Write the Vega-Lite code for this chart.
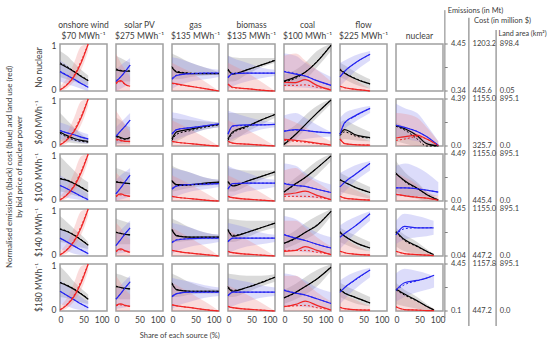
{
"$schema":"https://vega.github.io/schema/vega-lite/v6.json",
"bounds":"flush",
"title":{"text":"Share of each source (%)","orient":"bottom","anchor":"middle","dx":-97,"offset":4,"fontSize":7.5,"fontWeight":"normal","color":"#404040"},
"data":{"values":[
{"r":"No nuclear","s":"onshore wind|$70 MWh⁻¹","x":0,"e":0.58,"ed":0.60,"el":0.30,"eh":0.85,"c":0.41,"cd":0.42,"cl":0.20,"ch":0.65,"l":0.02,"ld":0.03,"ll":0,"lh":0.10},
{"r":"No nuclear","s":"onshore wind|$70 MWh⁻¹","x":15,"e":0.50,"ed":0.52,"el":0.25,"eh":0.75,"c":0.33,"cd":0.34,"cl":0.15,"ch":0.55,"l":0.13,"ld":0.15,"ll":0.06,"lh":0.28},
{"r":"No nuclear","s":"onshore wind|$70 MWh⁻¹","x":30,"e":0.41,"ed":0.42,"el":0.20,"eh":0.60,"c":0.25,"cd":0.25,"cl":0.10,"ch":0.42,"l":0.31,"ld":0.34,"ll":0.20,"lh":0.60},
{"r":"No nuclear","s":"onshore wind|$70 MWh⁻¹","x":45,"e":0.31,"ed":0.32,"el":0.15,"eh":0.45,"c":0.16,"cd":0.16,"cl":0.05,"ch":0.30,"l":0.60,"ld":0.64,"ll":0.45,"lh":0.95},
{"r":"No nuclear","s":"onshore wind|$70 MWh⁻¹","x":60,"e":0.22,"ed":0.23,"el":0.12,"eh":0.33,"c":0.08,"cd":0.08,"cl":0,"ch":0.20,"l":1,"ld":1,"ll":0.85,"lh":1},
{"r":"No nuclear","s":"solar PV|$275 MWh⁻¹","x":0,"e":0.45,"ed":0.47,"el":0.20,"eh":0.75,"c":0.20,"cd":0.22,"cl":0,"ch":0.45,"l":0.17,"ld":0.15,"ll":0,"lh":0.80},
{"r":"No nuclear","s":"solar PV|$275 MWh⁻¹","x":10,"e":0.43,"ed":0.44,"el":0.20,"eh":0.70,"c":0.30,"cd":0.30,"cl":0.05,"ch":0.55,"l":0.22,"ld":0.20,"ll":0,"lh":0.60},
{"r":"No nuclear","s":"solar PV|$275 MWh⁻¹","x":20,"e":0.42,"ed":0.43,"el":0.20,"eh":0.65,"c":0.42,"cd":0.42,"cl":0.10,"ch":0.62,"l":0.14,"ld":0.13,"ll":0,"lh":0.45},
{"r":"No nuclear","s":"solar PV|$275 MWh⁻¹","x":30,"e":0.42,"ed":0.43,"el":0.20,"eh":0.60,"c":0.55,"cd":0.55,"cl":0.15,"ch":0.70,"l":0.10,"ld":0.10,"ll":0,"lh":0.30},
{"r":"No nuclear","s":"gas|$135 MWh⁻¹","x":0,"e":0.50,"ed":0.52,"el":0.25,"eh":0.80,"c":0.25,"cd":0.27,"cl":0.05,"ch":0.72,"l":0.17,"ld":0.16,"ll":0,"lh":0.60},
{"r":"No nuclear","s":"gas|$135 MWh⁻¹","x":10,"e":0.40,"ed":0.42,"el":0.25,"eh":0.75,"c":0.33,"cd":0.34,"cl":0.10,"ch":0.70,"l":0.15,"ld":0.14,"ll":0,"lh":0.55},
{"r":"No nuclear","s":"gas|$135 MWh⁻¹","x":40,"e":0.37,"ed":0.38,"el":0.30,"eh":0.60,"c":0.37,"cd":0.37,"cl":0.20,"ch":0.60,"l":0.10,"ld":0.10,"ll":0,"lh":0.40},
{"r":"No nuclear","s":"gas|$135 MWh⁻¹","x":70,"e":0.37,"ed":0.37,"el":0.33,"eh":0.50,"c":0.38,"cd":0.38,"cl":0.25,"ch":0.50,"l":0.05,"ld":0.05,"ll":0,"lh":0.20},
{"r":"No nuclear","s":"gas|$135 MWh⁻¹","x":100,"e":0.37,"ed":0.37,"el":0.35,"eh":0.40,"c":0.38,"cd":0.38,"cl":0.30,"ch":0.45,"l":0,"ld":0,"ll":0,"lh":0},
{"r":"No nuclear","s":"biomass|$135 MWh⁻¹","x":0,"e":0.45,"ed":0.47,"el":0.20,"eh":0.75,"c":0.28,"cd":0.30,"cl":0.05,"ch":0.75,"l":0.15,"ld":0.14,"ll":0,"lh":0.60},
{"r":"No nuclear","s":"biomass|$135 MWh⁻¹","x":10,"e":0.36,"ed":0.37,"el":0.20,"eh":0.72,"c":0.37,"cd":0.38,"cl":0.10,"ch":0.70,"l":0.08,"ld":0.07,"ll":0,"lh":0.55},
{"r":"No nuclear","s":"biomass|$135 MWh⁻¹","x":40,"e":0.45,"ed":0.45,"el":0.35,"eh":0.70,"c":0.38,"cd":0.38,"cl":0.20,"ch":0.60,"l":0.05,"ld":0.05,"ll":0,"lh":0.40},
{"r":"No nuclear","s":"biomass|$135 MWh⁻¹","x":70,"e":0.55,"ed":0.55,"el":0.50,"eh":0.70,"c":0.38,"cd":0.38,"cl":0.27,"ch":0.50,"l":0.02,"ld":0.02,"ll":0,"lh":0.20},
{"r":"No nuclear","s":"biomass|$135 MWh⁻¹","x":100,"e":0.65,"ed":0.66,"el":0.60,"eh":0.70,"c":0.38,"cd":0.38,"cl":0.32,"ch":0.45,"l":0,"ld":0,"ll":0,"lh":0},
{"r":"No nuclear","s":"coal|$100 MWh⁻¹","x":0,"e":0.21,"ed":0.20,"el":0.10,"eh":0.35,"c":0.41,"cd":0.42,"cl":0.10,"ch":0.80,"l":0.19,"ld":0.12,"ll":0,"lh":0.75},
{"r":"No nuclear","s":"coal|$100 MWh⁻¹","x":25,"e":0.30,"ed":0.27,"el":0.15,"eh":0.45,"c":0.36,"cd":0.37,"cl":0.08,"ch":0.75,"l":0.18,"ld":0.12,"ll":0,"lh":0.80},
{"r":"No nuclear","s":"coal|$100 MWh⁻¹","x":45,"e":0.40,"ed":0.40,"el":0.25,"eh":0.60,"c":0.32,"cd":0.32,"cl":0.07,"ch":0.60,"l":0.24,"ld":0.13,"ll":0,"lh":0.65},
{"r":"No nuclear","s":"coal|$100 MWh⁻¹","x":70,"e":0.62,"ed":0.63,"el":0.50,"eh":0.85,"c":0.22,"cd":0.22,"cl":0.05,"ch":0.45,"l":0.12,"ld":0.08,"ll":0,"lh":0.45},
{"r":"No nuclear","s":"coal|$100 MWh⁻¹","x":100,"e":0.97,"ed":0.98,"el":0.85,"eh":1,"c":0.12,"cd":0.12,"cl":0.05,"ch":0.30,"l":0.02,"ld":0.03,"ll":0,"lh":0.20},
{"r":"No nuclear","s":"flow|$225 MWh⁻¹","x":0,"e":0.45,"ed":0.47,"el":0.30,"eh":0.60,"c":0.30,"cd":0.30,"cl":0.10,"ch":0.60,"l":0.10,"ld":0.10,"ll":0,"lh":0.50},
{"r":"No nuclear","s":"flow|$225 MWh⁻¹","x":10,"e":0.38,"ed":0.39,"el":0.25,"eh":0.55,"c":0.42,"cd":0.42,"cl":0.20,"ch":0.65,"l":0.07,"ld":0.07,"ll":0,"lh":0.40},
{"r":"No nuclear","s":"flow|$225 MWh⁻¹","x":30,"e":0.27,"ed":0.28,"el":0.15,"eh":0.42,"c":0.58,"cd":0.58,"cl":0.40,"ch":0.75,"l":0.04,"ld":0.04,"ll":0,"lh":0.25},
{"r":"No nuclear","s":"flow|$225 MWh⁻¹","x":64,"e":0.15,"ed":0.15,"el":0.05,"eh":0.25,"c":0.78,"cd":0.78,"cl":0.65,"ch":0.85,"l":0,"ld":0,"ll":0,"lh":0.05},

{"r":"$60 MWh⁻¹","s":"onshore wind|$70 MWh⁻¹","x":0,"e":0.30,"ed":0.27,"el":0.10,"eh":0.70,"c":0.33,"cd":0.33,"cl":0.15,"ch":0.50,"l":0.02,"ld":0.03,"ll":0,"lh":0.10},
{"r":"$60 MWh⁻¹","s":"onshore wind|$70 MWh⁻¹","x":15,"e":0.22,"ed":0.19,"el":0.08,"eh":0.55,"c":0.28,"cd":0.28,"cl":0.12,"ch":0.45,"l":0.13,"ld":0.15,"ll":0.06,"lh":0.28},
{"r":"$60 MWh⁻¹","s":"onshore wind|$70 MWh⁻¹","x":30,"e":0.16,"ed":0.13,"el":0.06,"eh":0.40,"c":0.24,"cd":0.24,"cl":0.10,"ch":0.38,"l":0.31,"ld":0.34,"ll":0.20,"lh":0.60},
{"r":"$60 MWh⁻¹","s":"onshore wind|$70 MWh⁻¹","x":45,"e":0.12,"ed":0.10,"el":0.05,"eh":0.25,"c":0.19,"cd":0.19,"cl":0.07,"ch":0.30,"l":0.60,"ld":0.64,"ll":0.45,"lh":0.95},
{"r":"$60 MWh⁻¹","s":"onshore wind|$70 MWh⁻¹","x":60,"e":0.10,"ed":0.08,"el":0.05,"eh":0.15,"c":0.15,"cd":0.15,"cl":0.05,"ch":0.25,"l":1,"ld":1,"ll":0.85,"lh":1},
{"r":"$60 MWh⁻¹","s":"solar PV|$275 MWh⁻¹","x":0,"e":0.22,"ed":0.20,"el":0.05,"eh":0.60,"c":0.20,"cd":0.22,"cl":0.05,"ch":0.40,"l":0.15,"ld":0.13,"ll":0,"lh":0.75},
{"r":"$60 MWh⁻¹","s":"solar PV|$275 MWh⁻¹","x":10,"e":0.18,"ed":0.16,"el":0.05,"eh":0.55,"c":0.32,"cd":0.32,"cl":0.07,"ch":0.50,"l":0.12,"ld":0.11,"ll":0,"lh":0.60},
{"r":"$60 MWh⁻¹","s":"solar PV|$275 MWh⁻¹","x":20,"e":0.15,"ed":0.14,"el":0.05,"eh":0.45,"c":0.43,"cd":0.43,"cl":0.10,"ch":0.60,"l":0.10,"ld":0.10,"ll":0,"lh":0.45},
{"r":"$60 MWh⁻¹","s":"solar PV|$275 MWh⁻¹","x":30,"e":0.18,"ed":0.17,"el":0.05,"eh":0.40,"c":0.55,"cd":0.55,"cl":0.12,"ch":0.70,"l":0.10,"ld":0.09,"ll":0,"lh":0.30},
{"r":"$60 MWh⁻¹","s":"gas|$135 MWh⁻¹","x":0,"e":0.15,"ed":0.12,"el":0.05,"eh":0.60,"c":0.25,"cd":0.27,"cl":0.10,"ch":0.72,"l":0.10,"ld":0.10,"ll":0,"lh":0.55},
{"r":"$60 MWh⁻¹","s":"gas|$135 MWh⁻¹","x":10,"e":0.30,"ed":0.25,"el":0.10,"eh":0.58,"c":0.35,"cd":0.35,"cl":0.15,"ch":0.70,"l":0.08,"ld":0.08,"ll":0,"lh":0.50},
{"r":"$60 MWh⁻¹","s":"gas|$135 MWh⁻¹","x":40,"e":0.36,"ed":0.33,"el":0.25,"eh":0.55,"c":0.39,"cd":0.39,"cl":0.25,"ch":0.62,"l":0.05,"ld":0.05,"ll":0,"lh":0.35},
{"r":"$60 MWh⁻¹","s":"gas|$135 MWh⁻¹","x":70,"e":0.42,"ed":0.40,"el":0.35,"eh":0.52,"c":0.43,"cd":0.43,"cl":0.35,"ch":0.55,"l":0.02,"ld":0.02,"ll":0,"lh":0.18},
{"r":"$60 MWh⁻¹","s":"gas|$135 MWh⁻¹","x":100,"e":0.46,"ed":0.45,"el":0.40,"eh":0.50,"c":0.47,"cd":0.47,"cl":0.40,"ch":0.50,"l":0,"ld":0,"ll":0,"lh":0},
{"r":"$60 MWh⁻¹","s":"biomass|$135 MWh⁻¹","x":0,"e":0.15,"ed":0.12,"el":0.05,"eh":0.70,"c":0.25,"cd":0.27,"cl":0.10,"ch":0.75,"l":0.10,"ld":0.10,"ll":0,"lh":0.55},
{"r":"$60 MWh⁻¹","s":"biomass|$135 MWh⁻¹","x":10,"e":0.30,"ed":0.27,"el":0.10,"eh":0.70,"c":0.43,"cd":0.42,"cl":0.15,"ch":0.72,"l":0.06,"ld":0.06,"ll":0,"lh":0.50},
{"r":"$60 MWh⁻¹","s":"biomass|$135 MWh⁻¹","x":40,"e":0.42,"ed":0.40,"el":0.30,"eh":0.70,"c":0.45,"cd":0.44,"cl":0.25,"ch":0.62,"l":0.04,"ld":0.04,"ll":0,"lh":0.35},
{"r":"$60 MWh⁻¹","s":"biomass|$135 MWh⁻¹","x":70,"e":0.55,"ed":0.55,"el":0.45,"eh":0.70,"c":0.45,"cd":0.45,"cl":0.35,"ch":0.55,"l":0.02,"ld":0.02,"ll":0,"lh":0.18},
{"r":"$60 MWh⁻¹","s":"biomass|$135 MWh⁻¹","x":100,"e":0.67,"ed":0.67,"el":0.60,"eh":0.70,"c":0.46,"cd":0.46,"cl":0.40,"ch":0.50,"l":0,"ld":0,"ll":0,"lh":0},
{"r":"$60 MWh⁻¹","s":"coal|$100 MWh⁻¹","x":0,"e":0.03,"ed":0.05,"el":0,"eh":0.30,"c":0.31,"cd":0.32,"cl":0.10,"ch":0.65,"l":0.14,"ld":0.12,"ll":0,"lh":0.60},
{"r":"$60 MWh⁻¹","s":"coal|$100 MWh⁻¹","x":25,"e":0.25,"ed":0.25,"el":0.15,"eh":0.45,"c":0.35,"cd":0.34,"cl":0.12,"ch":0.70,"l":0.12,"ld":0.10,"ll":0,"lh":0.50},
{"r":"$60 MWh⁻¹","s":"coal|$100 MWh⁻¹","x":45,"e":0.45,"ed":0.45,"el":0.35,"eh":0.65,"c":0.33,"cd":0.33,"cl":0.15,"ch":0.60,"l":0.10,"ld":0.08,"ll":0,"lh":0.40},
{"r":"$60 MWh⁻¹","s":"coal|$100 MWh⁻¹","x":70,"e":0.70,"ed":0.70,"el":0.60,"eh":0.85,"c":0.30,"cd":0.30,"cl":0.18,"ch":0.45,"l":0.06,"ld":0.05,"ll":0,"lh":0.25},
{"r":"$60 MWh⁻¹","s":"coal|$100 MWh⁻¹","x":100,"e":0.98,"ed":0.98,"el":0.90,"eh":1,"c":0.28,"cd":0.28,"cl":0.20,"ch":0.30,"l":0.02,"ld":0.02,"ll":0,"lh":0.10},
{"r":"$60 MWh⁻¹","s":"flow|$225 MWh⁻¹","x":0,"e":0.25,"ed":0.22,"el":0.10,"eh":0.50,"c":0.25,"cd":0.25,"cl":0.15,"ch":0.60,"l":0.15,"ld":0.13,"ll":0,"lh":0.50},
{"r":"$60 MWh⁻¹","s":"flow|$225 MWh⁻¹","x":10,"e":0.35,"ed":0.30,"el":0.15,"eh":0.55,"c":0.50,"cd":0.48,"cl":0.35,"ch":0.70,"l":0.05,"ld":0.05,"ll":0,"lh":0.35},
{"r":"$60 MWh⁻¹","s":"flow|$225 MWh⁻¹","x":30,"e":0.25,"ed":0.22,"el":0.12,"eh":0.45,"c":0.63,"cd":0.62,"cl":0.50,"ch":0.78,"l":0.03,"ld":0.03,"ll":0,"lh":0.25},
{"r":"$60 MWh⁻¹","s":"flow|$225 MWh⁻¹","x":64,"e":0.18,"ed":0.17,"el":0.10,"eh":0.30,"c":0.80,"cd":0.80,"cl":0.70,"ch":0.85,"l":0.02,"ld":0.02,"ll":0,"lh":0.10},
{"r":"$60 MWh⁻¹","s":"nuclear","x":0,"e":0.44,"ed":0.42,"el":0.10,"eh":0.50,"c":0.44,"cd":0.44,"cl":0.20,"ch":0.90,"l":0.17,"ld":0.12,"ll":0,"lh":0.70},
{"r":"$60 MWh⁻¹","s":"nuclear","x":20,"e":0.36,"ed":0.33,"el":0.05,"eh":0.40,"c":0.39,"cd":0.39,"cl":0.15,"ch":0.80,"l":0.20,"ld":0.15,"ll":0,"lh":0.68},
{"r":"$60 MWh⁻¹","s":"nuclear","x":45,"e":0.22,"ed":0.15,"el":0,"eh":0.25,"c":0.31,"cd":0.31,"cl":0.10,"ch":0.70,"l":0.23,"ld":0.20,"ll":0,"lh":0.60},
{"r":"$60 MWh⁻¹","s":"nuclear","x":65,"e":0.05,"ed":0,"el":0,"eh":0.10,"c":0.20,"cd":0.20,"cl":0.05,"ch":0.45,"l":0.15,"ld":0.15,"ll":0,"lh":0.40},
{"r":"$60 MWh⁻¹","s":"nuclear","x":90,"e":0,"ed":0,"el":0,"eh":0.05,"c":0.01,"cd":0.01,"cl":0,"ch":0.10,"l":0.01,"ld":0.01,"ll":0,"lh":0.10},

{"r":"$100 MWh⁻¹","s":"onshore wind|$70 MWh⁻¹","x":0,"e":0.47,"ed":0.48,"el":0.20,"eh":0.95,"c":0.33,"cd":0.33,"cl":0.10,"ch":0.55,"l":0.02,"ld":0.03,"ll":0,"lh":0.10},
{"r":"$100 MWh⁻¹","s":"onshore wind|$70 MWh⁻¹","x":15,"e":0.44,"ed":0.45,"el":0.17,"eh":0.80,"c":0.26,"cd":0.26,"cl":0.07,"ch":0.45,"l":0.13,"ld":0.15,"ll":0.06,"lh":0.28},
{"r":"$100 MWh⁻¹","s":"onshore wind|$70 MWh⁻¹","x":30,"e":0.37,"ed":0.38,"el":0.12,"eh":0.65,"c":0.18,"cd":0.18,"cl":0.04,"ch":0.35,"l":0.31,"ld":0.34,"ll":0.20,"lh":0.60},
{"r":"$100 MWh⁻¹","s":"onshore wind|$70 MWh⁻¹","x":45,"e":0.29,"ed":0.30,"el":0.08,"eh":0.50,"c":0.10,"cd":0.10,"cl":0.02,"ch":0.25,"l":0.60,"ld":0.64,"ll":0.45,"lh":0.95},
{"r":"$100 MWh⁻¹","s":"onshore wind|$70 MWh⁻¹","x":60,"e":0.20,"ed":0.21,"el":0.05,"eh":0.40,"c":0.03,"cd":0.03,"cl":0,"ch":0.15,"l":1,"ld":1,"ll":0.85,"lh":1},
{"r":"$100 MWh⁻¹","s":"solar PV|$275 MWh⁻¹","x":0,"e":0.40,"ed":0.41,"el":0.15,"eh":0.70,"c":0.15,"cd":0.16,"cl":0,"ch":0.45,"l":0.10,"ld":0.09,"ll":0,"lh":0.60},
{"r":"$100 MWh⁻¹","s":"solar PV|$275 MWh⁻¹","x":10,"e":0.39,"ed":0.40,"el":0.15,"eh":0.67,"c":0.28,"cd":0.28,"cl":0.03,"ch":0.55,"l":0.15,"ld":0.13,"ll":0,"lh":0.50},
{"r":"$100 MWh⁻¹","s":"solar PV|$275 MWh⁻¹","x":20,"e":0.38,"ed":0.38,"el":0.15,"eh":0.63,"c":0.42,"cd":0.42,"cl":0.06,"ch":0.62,"l":0.12,"ld":0.11,"ll":0,"lh":0.40},
{"r":"$100 MWh⁻¹","s":"solar PV|$275 MWh⁻¹","x":30,"e":0.37,"ed":0.37,"el":0.15,"eh":0.60,"c":0.55,"cd":0.55,"cl":0.10,"ch":0.70,"l":0.10,"ld":0.10,"ll":0,"lh":0.30},
{"r":"$100 MWh⁻¹","s":"gas|$135 MWh⁻¹","x":0,"e":0.42,"ed":0.44,"el":0.20,"eh":0.75,"c":0.25,"cd":0.27,"cl":0.05,"ch":0.70,"l":0.10,"ld":0.10,"ll":0,"lh":0.55},
{"r":"$100 MWh⁻¹","s":"gas|$135 MWh⁻¹","x":10,"e":0.35,"ed":0.33,"el":0.22,"eh":0.70,"c":0.32,"cd":0.32,"cl":0.10,"ch":0.68,"l":0.08,"ld":0.08,"ll":0,"lh":0.50},
{"r":"$100 MWh⁻¹","s":"gas|$135 MWh⁻¹","x":40,"e":0.35,"ed":0.34,"el":0.28,"eh":0.60,"c":0.35,"cd":0.35,"cl":0.20,"ch":0.60,"l":0.05,"ld":0.05,"ll":0,"lh":0.35},
{"r":"$100 MWh⁻¹","s":"gas|$135 MWh⁻¹","x":70,"e":0.38,"ed":0.37,"el":0.32,"eh":0.50,"c":0.36,"cd":0.36,"cl":0.25,"ch":0.50,"l":0.02,"ld":0.02,"ll":0,"lh":0.18},
{"r":"$100 MWh⁻¹","s":"gas|$135 MWh⁻¹","x":100,"e":0.40,"ed":0.40,"el":0.35,"eh":0.45,"c":0.37,"cd":0.37,"cl":0.30,"ch":0.45,"l":0,"ld":0,"ll":0,"lh":0},
{"r":"$100 MWh⁻¹","s":"biomass|$135 MWh⁻¹","x":0,"e":0.40,"ed":0.42,"el":0.20,"eh":0.70,"c":0.25,"cd":0.27,"cl":0.05,"ch":0.75,"l":0.10,"ld":0.10,"ll":0,"lh":0.55},
{"r":"$100 MWh⁻¹","s":"biomass|$135 MWh⁻¹","x":10,"e":0.32,"ed":0.33,"el":0.20,"eh":0.68,"c":0.37,"cd":0.37,"cl":0.10,"ch":0.70,"l":0.07,"ld":0.07,"ll":0,"lh":0.50},
{"r":"$100 MWh⁻¹","s":"biomass|$135 MWh⁻¹","x":40,"e":0.42,"ed":0.42,"el":0.32,"eh":0.65,"c":0.38,"cd":0.38,"cl":0.20,"ch":0.60,"l":0.04,"ld":0.04,"ll":0,"lh":0.35},
{"r":"$100 MWh⁻¹","s":"biomass|$135 MWh⁻¹","x":70,"e":0.52,"ed":0.52,"el":0.45,"eh":0.65,"c":0.38,"cd":0.38,"cl":0.25,"ch":0.50,"l":0.02,"ld":0.02,"ll":0,"lh":0.18},
{"r":"$100 MWh⁻¹","s":"biomass|$135 MWh⁻¹","x":100,"e":0.62,"ed":0.62,"el":0.55,"eh":0.65,"c":0.38,"cd":0.38,"cl":0.30,"ch":0.45,"l":0,"ld":0,"ll":0,"lh":0},
{"r":"$100 MWh⁻¹","s":"coal|$100 MWh⁻¹","x":0,"e":0.19,"ed":0.19,"el":0.10,"eh":0.30,"c":0.37,"cd":0.38,"cl":0.10,"ch":0.80,"l":0.14,"ld":0.10,"ll":0,"lh":0.65},
{"r":"$100 MWh⁻¹","s":"coal|$100 MWh⁻¹","x":25,"e":0.37,"ed":0.36,"el":0.20,"eh":0.50,"c":0.33,"cd":0.33,"cl":0.08,"ch":0.75,"l":0.17,"ld":0.10,"ll":0,"lh":0.70},
{"r":"$100 MWh⁻¹","s":"coal|$100 MWh⁻¹","x":45,"e":0.50,"ed":0.50,"el":0.35,"eh":0.65,"c":0.31,"cd":0.31,"cl":0.07,"ch":0.60,"l":0.21,"ld":0.10,"ll":0,"lh":0.55},
{"r":"$100 MWh⁻¹","s":"coal|$100 MWh⁻¹","x":70,"e":0.70,"ed":0.70,"el":0.55,"eh":0.85,"c":0.25,"cd":0.25,"cl":0.06,"ch":0.45,"l":0.12,"ld":0.08,"ll":0,"lh":0.40},
{"r":"$100 MWh⁻¹","s":"coal|$100 MWh⁻¹","x":100,"e":0.96,"ed":0.96,"el":0.85,"eh":1,"c":0.18,"cd":0.18,"cl":0.05,"ch":0.35,"l":0.03,"ld":0.03,"ll":0,"lh":0.20},
{"r":"$100 MWh⁻¹","s":"flow|$225 MWh⁻¹","x":0,"e":0.45,"ed":0.46,"el":0.20,"eh":0.60,"c":0.30,"cd":0.30,"cl":0.10,"ch":0.60,"l":0.10,"ld":0.10,"ll":0,"lh":0.45},
{"r":"$100 MWh⁻¹","s":"flow|$225 MWh⁻¹","x":10,"e":0.40,"ed":0.40,"el":0.17,"eh":0.55,"c":0.40,"cd":0.40,"cl":0.20,"ch":0.65,"l":0.06,"ld":0.06,"ll":0,"lh":0.35},
{"r":"$100 MWh⁻¹","s":"flow|$225 MWh⁻¹","x":30,"e":0.30,"ed":0.30,"el":0.12,"eh":0.45,"c":0.55,"cd":0.55,"cl":0.40,"ch":0.75,"l":0.04,"ld":0.04,"ll":0,"lh":0.25},
{"r":"$100 MWh⁻¹","s":"flow|$225 MWh⁻¹","x":64,"e":0.18,"ed":0.18,"el":0.05,"eh":0.30,"c":0.80,"cd":0.80,"cl":0.65,"ch":0.85,"l":0.02,"ld":0.02,"ll":0,"lh":0.10},
{"r":"$100 MWh⁻¹","s":"nuclear","x":0,"e":0.58,"ed":0.60,"el":0.20,"eh":0.85,"c":0.28,"cd":0.28,"cl":0.10,"ch":0.75,"l":0.14,"ld":0.14,"ll":0,"lh":0.60},
{"r":"$100 MWh⁻¹","s":"nuclear","x":20,"e":0.42,"ed":0.40,"el":0.10,"eh":0.60,"c":0.28,"cd":0.28,"cl":0.10,"ch":0.80,"l":0.11,"ld":0.11,"ll":0,"lh":0.50},
{"r":"$100 MWh⁻¹","s":"nuclear","x":45,"e":0.27,"ed":0.27,"el":0.05,"eh":0.40,"c":0.26,"cd":0.26,"cl":0.10,"ch":0.72,"l":0.08,"ld":0.08,"ll":0,"lh":0.35},
{"r":"$100 MWh⁻¹","s":"nuclear","x":65,"e":0.14,"ed":0.14,"el":0,"eh":0.20,"c":0.23,"cd":0.23,"cl":0.10,"ch":0.60,"l":0.06,"ld":0.06,"ll":0,"lh":0.20},
{"r":"$100 MWh⁻¹","s":"nuclear","x":90,"e":0.02,"ed":0.02,"el":0,"eh":0.05,"c":0.19,"cd":0.19,"cl":0.10,"ch":0.40,"l":0.02,"ld":0.02,"ll":0,"lh":0.10},

{"r":"$140 MWh⁻¹","s":"onshore wind|$70 MWh⁻¹","x":0,"e":0.57,"ed":0.58,"el":0.30,"eh":0.85,"c":0.38,"cd":0.38,"cl":0.15,"ch":0.60,"l":0.02,"ld":0.03,"ll":0,"lh":0.10},
{"r":"$140 MWh⁻¹","s":"onshore wind|$70 MWh⁻¹","x":15,"e":0.52,"ed":0.53,"el":0.27,"eh":0.72,"c":0.30,"cd":0.30,"cl":0.10,"ch":0.50,"l":0.13,"ld":0.15,"ll":0.06,"lh":0.28},
{"r":"$140 MWh⁻¹","s":"onshore wind|$70 MWh⁻¹","x":30,"e":0.44,"ed":0.45,"el":0.22,"eh":0.58,"c":0.21,"cd":0.21,"cl":0.05,"ch":0.40,"l":0.31,"ld":0.34,"ll":0.20,"lh":0.60},
{"r":"$140 MWh⁻¹","s":"onshore wind|$70 MWh⁻¹","x":45,"e":0.34,"ed":0.35,"el":0.18,"eh":0.45,"c":0.13,"cd":0.13,"cl":0.02,"ch":0.30,"l":0.60,"ld":0.64,"ll":0.45,"lh":0.95},
{"r":"$140 MWh⁻¹","s":"onshore wind|$70 MWh⁻¹","x":60,"e":0.23,"ed":0.24,"el":0.15,"eh":0.30,"c":0.05,"cd":0.05,"cl":0,"ch":0.20,"l":1,"ld":1,"ll":0.85,"lh":1},
{"r":"$140 MWh⁻¹","s":"solar PV|$275 MWh⁻¹","x":0,"e":0.50,"ed":0.51,"el":0.25,"eh":0.80,"c":0.22,"cd":0.23,"cl":0.05,"ch":0.45,"l":0.10,"ld":0.09,"ll":0,"lh":0.70},
{"r":"$140 MWh⁻¹","s":"solar PV|$275 MWh⁻¹","x":10,"e":0.48,"ed":0.48,"el":0.25,"eh":0.76,"c":0.35,"cd":0.35,"cl":0.06,"ch":0.55,"l":0.15,"ld":0.13,"ll":0,"lh":0.60},
{"r":"$140 MWh⁻¹","s":"solar PV|$275 MWh⁻¹","x":20,"e":0.46,"ed":0.46,"el":0.25,"eh":0.73,"c":0.48,"cd":0.48,"cl":0.08,"ch":0.65,"l":0.11,"ld":0.10,"ll":0,"lh":0.45},
{"r":"$140 MWh⁻¹","s":"solar PV|$275 MWh⁻¹","x":30,"e":0.45,"ed":0.45,"el":0.25,"eh":0.70,"c":0.60,"cd":0.60,"cl":0.10,"ch":0.75,"l":0.08,"ld":0.08,"ll":0,"lh":0.35},
{"r":"$140 MWh⁻¹","s":"gas|$135 MWh⁻¹","x":0,"e":0.55,"ed":0.57,"el":0.30,"eh":0.80,"c":0.28,"cd":0.30,"cl":0.05,"ch":0.70,"l":0.12,"ld":0.12,"ll":0,"lh":0.60},
{"r":"$140 MWh⁻¹","s":"gas|$135 MWh⁻¹","x":10,"e":0.43,"ed":0.44,"el":0.30,"eh":0.75,"c":0.34,"cd":0.35,"cl":0.10,"ch":0.68,"l":0.10,"ld":0.10,"ll":0,"lh":0.55},
{"r":"$140 MWh⁻¹","s":"gas|$135 MWh⁻¹","x":40,"e":0.40,"ed":0.40,"el":0.33,"eh":0.60,"c":0.37,"cd":0.37,"cl":0.20,"ch":0.60,"l":0.06,"ld":0.06,"ll":0,"lh":0.38},
{"r":"$140 MWh⁻¹","s":"gas|$135 MWh⁻¹","x":70,"e":0.40,"ed":0.40,"el":0.35,"eh":0.50,"c":0.38,"cd":0.38,"cl":0.25,"ch":0.50,"l":0.03,"ld":0.03,"ll":0,"lh":0.20},
{"r":"$140 MWh⁻¹","s":"gas|$135 MWh⁻¹","x":100,"e":0.40,"ed":0.40,"el":0.35,"eh":0.45,"c":0.38,"cd":0.38,"cl":0.30,"ch":0.45,"l":0,"ld":0,"ll":0,"lh":0},
{"r":"$140 MWh⁻¹","s":"biomass|$135 MWh⁻¹","x":0,"e":0.55,"ed":0.57,"el":0.30,"eh":0.80,"c":0.30,"cd":0.32,"cl":0.05,"ch":0.70,"l":0.10,"ld":0.10,"ll":0,"lh":0.55},
{"r":"$140 MWh⁻¹","s":"biomass|$135 MWh⁻¹","x":10,"e":0.42,"ed":0.44,"el":0.30,"eh":0.78,"c":0.38,"cd":0.38,"cl":0.10,"ch":0.68,"l":0.07,"ld":0.07,"ll":0,"lh":0.50},
{"r":"$140 MWh⁻¹","s":"biomass|$135 MWh⁻¹","x":40,"e":0.50,"ed":0.50,"el":0.40,"eh":0.75,"c":0.38,"cd":0.38,"cl":0.20,"ch":0.60,"l":0.04,"ld":0.04,"ll":0,"lh":0.35},
{"r":"$140 MWh⁻¹","s":"biomass|$135 MWh⁻¹","x":70,"e":0.60,"ed":0.60,"el":0.52,"eh":0.75,"c":0.38,"cd":0.38,"cl":0.25,"ch":0.50,"l":0.02,"ld":0.02,"ll":0,"lh":0.18},
{"r":"$140 MWh⁻¹","s":"biomass|$135 MWh⁻¹","x":100,"e":0.70,"ed":0.70,"el":0.60,"eh":0.75,"c":0.38,"cd":0.38,"cl":0.30,"ch":0.45,"l":0,"ld":0,"ll":0,"lh":0},
{"r":"$140 MWh⁻¹","s":"coal|$100 MWh⁻¹","x":0,"e":0.27,"ed":0.27,"el":0.15,"eh":0.40,"c":0.45,"cd":0.46,"cl":0.10,"ch":0.85,"l":0.10,"ld":0.12,"ll":0,"lh":0.75},
{"r":"$140 MWh⁻¹","s":"coal|$100 MWh⁻¹","x":25,"e":0.38,"ed":0.37,"el":0.25,"eh":0.55,"c":0.38,"cd":0.38,"cl":0.10,"ch":0.78,"l":0.12,"ld":0.12,"ll":0,"lh":0.75},
{"r":"$140 MWh⁻¹","s":"coal|$100 MWh⁻¹","x":45,"e":0.50,"ed":0.50,"el":0.35,"eh":0.70,"c":0.33,"cd":0.33,"cl":0.08,"ch":0.65,"l":0.20,"ld":0.12,"ll":0,"lh":0.60},
{"r":"$140 MWh⁻¹","s":"coal|$100 MWh⁻¹","x":70,"e":0.65,"ed":0.66,"el":0.50,"eh":0.85,"c":0.25,"cd":0.25,"cl":0.07,"ch":0.50,"l":0.12,"ld":0.08,"ll":0,"lh":0.40},
{"r":"$140 MWh⁻¹","s":"coal|$100 MWh⁻¹","x":100,"e":0.95,"ed":0.95,"el":0.85,"eh":1,"c":0.17,"cd":0.17,"cl":0.05,"ch":0.40,"l":0.03,"ld":0.04,"ll":0,"lh":0.20},
{"r":"$140 MWh⁻¹","s":"flow|$225 MWh⁻¹","x":0,"e":0.50,"ed":0.52,"el":0.30,"eh":0.60,"c":0.40,"cd":0.40,"cl":0.15,"ch":0.65,"l":0.10,"ld":0.10,"ll":0,"lh":0.50},
{"r":"$140 MWh⁻¹","s":"flow|$225 MWh⁻¹","x":10,"e":0.42,"ed":0.43,"el":0.25,"eh":0.55,"c":0.48,"cd":0.48,"cl":0.25,"ch":0.72,"l":0.07,"ld":0.07,"ll":0,"lh":0.40},
{"r":"$140 MWh⁻¹","s":"flow|$225 MWh⁻¹","x":30,"e":0.30,"ed":0.30,"el":0.17,"eh":0.45,"c":0.62,"cd":0.62,"cl":0.45,"ch":0.82,"l":0.04,"ld":0.04,"ll":0,"lh":0.25},
{"r":"$140 MWh⁻¹","s":"flow|$225 MWh⁻¹","x":64,"e":0.17,"ed":0.17,"el":0.10,"eh":0.30,"c":0.90,"cd":0.90,"cl":0.75,"ch":0.95,"l":0.02,"ld":0.02,"ll":0,"lh":0.10},
{"r":"$140 MWh⁻¹","s":"nuclear","x":0,"e":0.52,"ed":0.50,"el":0.20,"eh":0.60,"c":0.45,"cd":0.45,"cl":0.25,"ch":0.75,"l":0.10,"ld":0.10,"ll":0,"lh":0.50},
{"r":"$140 MWh⁻¹","s":"nuclear","x":18,"e":0.35,"ed":0.33,"el":0.10,"eh":0.45,"c":0.63,"cd":0.58,"cl":0.35,"ch":0.90,"l":0.05,"ld":0.05,"ll":0,"lh":0.35},
{"r":"$140 MWh⁻¹","s":"nuclear","x":45,"e":0.21,"ed":0.20,"el":0.05,"eh":0.30,"c":0.60,"cd":0.60,"cl":0.40,"ch":0.85,"l":0.03,"ld":0.03,"ll":0,"lh":0.20},
{"r":"$140 MWh⁻¹","s":"nuclear","x":65,"e":0.10,"ed":0.10,"el":0,"eh":0.15,"c":0.60,"cd":0.60,"cl":0.42,"ch":0.80,"l":0.02,"ld":0.02,"ll":0,"lh":0.10},
{"r":"$140 MWh⁻¹","s":"nuclear","x":80,"e":0.03,"ed":0.03,"el":0,"eh":0.05,"c":0.60,"cd":0.61,"cl":0.45,"ch":0.75,"l":0.01,"ld":0.01,"ll":0,"lh":0.05},

{"r":"$180 MWh⁻¹","s":"onshore wind|$70 MWh⁻¹","x":0,"e":0.60,"ed":0.61,"el":0.30,"eh":0.95,"c":0.42,"cd":0.42,"cl":0.15,"ch":0.65,"l":0.02,"ld":0.03,"ll":0,"lh":0.10},
{"r":"$180 MWh⁻¹","s":"onshore wind|$70 MWh⁻¹","x":15,"e":0.54,"ed":0.55,"el":0.27,"eh":0.80,"c":0.33,"cd":0.33,"cl":0.10,"ch":0.55,"l":0.13,"ld":0.15,"ll":0.06,"lh":0.28},
{"r":"$180 MWh⁻¹","s":"onshore wind|$70 MWh⁻¹","x":30,"e":0.46,"ed":0.47,"el":0.22,"eh":0.62,"c":0.24,"cd":0.24,"cl":0.05,"ch":0.42,"l":0.31,"ld":0.34,"ll":0.20,"lh":0.60},
{"r":"$180 MWh⁻¹","s":"onshore wind|$70 MWh⁻¹","x":45,"e":0.36,"ed":0.37,"el":0.18,"eh":0.48,"c":0.15,"cd":0.15,"cl":0.02,"ch":0.30,"l":0.60,"ld":0.64,"ll":0.45,"lh":0.95},
{"r":"$180 MWh⁻¹","s":"onshore wind|$70 MWh⁻¹","x":60,"e":0.25,"ed":0.26,"el":0.15,"eh":0.35,"c":0.07,"cd":0.07,"cl":0,"ch":0.20,"l":1,"ld":1,"ll":0.85,"lh":1},
{"r":"$180 MWh⁻¹","s":"solar PV|$275 MWh⁻¹","x":0,"e":0.52,"ed":0.53,"el":0.25,"eh":0.80,"c":0.25,"cd":0.26,"cl":0.05,"ch":0.45,"l":0.12,"ld":0.11,"ll":0,"lh":0.75},
{"r":"$180 MWh⁻¹","s":"solar PV|$275 MWh⁻¹","x":10,"e":0.50,"ed":0.50,"el":0.25,"eh":0.77,"c":0.37,"cd":0.37,"cl":0.06,"ch":0.55,"l":0.15,"ld":0.13,"ll":0,"lh":0.60},
{"r":"$180 MWh⁻¹","s":"solar PV|$275 MWh⁻¹","x":20,"e":0.48,"ed":0.48,"el":0.25,"eh":0.73,"c":0.50,"cd":0.50,"cl":0.08,"ch":0.65,"l":0.12,"ld":0.11,"ll":0,"lh":0.45},
{"r":"$180 MWh⁻¹","s":"solar PV|$275 MWh⁻¹","x":30,"e":0.47,"ed":0.47,"el":0.25,"eh":0.70,"c":0.62,"cd":0.62,"cl":0.10,"ch":0.75,"l":0.10,"ld":0.10,"ll":0,"lh":0.35},
{"r":"$180 MWh⁻¹","s":"gas|$135 MWh⁻¹","x":0,"e":0.58,"ed":0.60,"el":0.30,"eh":0.80,"c":0.30,"cd":0.32,"cl":0.05,"ch":0.70,"l":0.13,"ld":0.13,"ll":0,"lh":0.60},
{"r":"$180 MWh⁻¹","s":"gas|$135 MWh⁻¹","x":10,"e":0.45,"ed":0.46,"el":0.30,"eh":0.75,"c":0.37,"cd":0.37,"cl":0.10,"ch":0.68,"l":0.11,"ld":0.11,"ll":0,"lh":0.55},
{"r":"$180 MWh⁻¹","s":"gas|$135 MWh⁻¹","x":40,"e":0.42,"ed":0.42,"el":0.35,"eh":0.60,"c":0.40,"cd":0.40,"cl":0.20,"ch":0.62,"l":0.07,"ld":0.07,"ll":0,"lh":0.38},
{"r":"$180 MWh⁻¹","s":"gas|$135 MWh⁻¹","x":70,"e":0.42,"ed":0.42,"el":0.37,"eh":0.50,"c":0.40,"cd":0.40,"cl":0.28,"ch":0.55,"l":0.03,"ld":0.03,"ll":0,"lh":0.20},
{"r":"$180 MWh⁻¹","s":"gas|$135 MWh⁻¹","x":100,"e":0.42,"ed":0.42,"el":0.38,"eh":0.45,"c":0.40,"cd":0.40,"cl":0.32,"ch":0.50,"l":0,"ld":0,"ll":0,"lh":0},
{"r":"$180 MWh⁻¹","s":"biomass|$135 MWh⁻¹","x":0,"e":0.50,"ed":0.52,"el":0.30,"eh":0.80,"c":0.32,"cd":0.34,"cl":0.05,"ch":0.70,"l":0.10,"ld":0.10,"ll":0,"lh":0.55},
{"r":"$180 MWh⁻¹","s":"biomass|$135 MWh⁻¹","x":10,"e":0.42,"ed":0.44,"el":0.30,"eh":0.78,"c":0.40,"cd":0.40,"cl":0.10,"ch":0.68,"l":0.07,"ld":0.07,"ll":0,"lh":0.50},
{"r":"$180 MWh⁻¹","s":"biomass|$135 MWh⁻¹","x":40,"e":0.50,"ed":0.50,"el":0.40,"eh":0.75,"c":0.40,"cd":0.40,"cl":0.20,"ch":0.62,"l":0.04,"ld":0.04,"ll":0,"lh":0.35},
{"r":"$180 MWh⁻¹","s":"biomass|$135 MWh⁻¹","x":70,"e":0.60,"ed":0.61,"el":0.52,"eh":0.75,"c":0.40,"cd":0.40,"cl":0.28,"ch":0.55,"l":0.02,"ld":0.02,"ll":0,"lh":0.18},
{"r":"$180 MWh⁻¹","s":"biomass|$135 MWh⁻¹","x":100,"e":0.72,"ed":0.72,"el":0.62,"eh":0.78,"c":0.40,"cd":0.40,"cl":0.32,"ch":0.50,"l":0,"ld":0,"ll":0,"lh":0},
{"r":"$180 MWh⁻¹","s":"coal|$100 MWh⁻¹","x":0,"e":0.28,"ed":0.28,"el":0.15,"eh":0.45,"c":0.44,"cd":0.45,"cl":0.10,"ch":0.80,"l":0.09,"ld":0.10,"ll":0,"lh":0.75},
{"r":"$180 MWh⁻¹","s":"coal|$100 MWh⁻¹","x":25,"e":0.40,"ed":0.39,"el":0.25,"eh":0.58,"c":0.38,"cd":0.38,"cl":0.10,"ch":0.75,"l":0.14,"ld":0.11,"ll":0,"lh":0.75},
{"r":"$180 MWh⁻¹","s":"coal|$100 MWh⁻¹","x":45,"e":0.52,"ed":0.52,"el":0.35,"eh":0.72,"c":0.34,"cd":0.34,"cl":0.08,"ch":0.65,"l":0.21,"ld":0.12,"ll":0,"lh":0.60},
{"r":"$180 MWh⁻¹","s":"coal|$100 MWh⁻¹","x":70,"e":0.68,"ed":0.68,"el":0.52,"eh":0.87,"c":0.26,"cd":0.26,"cl":0.07,"ch":0.50,"l":0.12,"ld":0.07,"ll":0,"lh":0.40},
{"r":"$180 MWh⁻¹","s":"coal|$100 MWh⁻¹","x":100,"e":0.93,"ed":0.94,"el":0.85,"eh":1,"c":0.16,"cd":0.16,"cl":0.05,"ch":0.40,"l":0.02,"ld":0.03,"ll":0,"lh":0.20},
{"r":"$180 MWh⁻¹","s":"flow|$225 MWh⁻¹","x":0,"e":0.45,"ed":0.47,"el":0.30,"eh":0.60,"c":0.40,"cd":0.40,"cl":0.15,"ch":0.65,"l":0.08,"ld":0.08,"ll":0,"lh":0.45},
{"r":"$180 MWh⁻¹","s":"flow|$225 MWh⁻¹","x":10,"e":0.38,"ed":0.39,"el":0.25,"eh":0.55,"c":0.50,"cd":0.50,"cl":0.25,"ch":0.72,"l":0.05,"ld":0.05,"ll":0,"lh":0.35},
{"r":"$180 MWh⁻¹","s":"flow|$225 MWh⁻¹","x":30,"e":0.30,"ed":0.30,"el":0.17,"eh":0.45,"c":0.65,"cd":0.64,"cl":0.45,"ch":0.82,"l":0.03,"ld":0.03,"ll":0,"lh":0.25},
{"r":"$180 MWh⁻¹","s":"flow|$225 MWh⁻¹","x":64,"e":0.17,"ed":0.17,"el":0.10,"eh":0.30,"c":0.87,"cd":0.87,"cl":0.72,"ch":0.92,"l":0.02,"ld":0.02,"ll":0,"lh":0.10},
{"r":"$180 MWh⁻¹","s":"nuclear","x":0,"e":0.47,"ed":0.45,"el":0.15,"eh":0.60,"c":0.44,"cd":0.44,"cl":0.20,"ch":0.80,"l":0.09,"ld":0.09,"ll":0,"lh":0.55},
{"r":"$180 MWh⁻¹","s":"nuclear","x":18,"e":0.36,"ed":0.34,"el":0.10,"eh":0.45,"c":0.60,"cd":0.56,"cl":0.30,"ch":0.90,"l":0.03,"ld":0.03,"ll":0,"lh":0.35},
{"r":"$180 MWh⁻¹","s":"nuclear","x":45,"e":0.22,"ed":0.21,"el":0.05,"eh":0.30,"c":0.65,"cd":0.64,"cl":0.40,"ch":0.85,"l":0.02,"ld":0.02,"ll":0,"lh":0.20},
{"r":"$180 MWh⁻¹","s":"nuclear","x":65,"e":0.10,"ed":0.10,"el":0,"eh":0.15,"c":0.70,"cd":0.70,"cl":0.45,"ch":0.80,"l":0.01,"ld":0.01,"ll":0,"lh":0.10},
{"r":"$180 MWh⁻¹","s":"nuclear","x":81,"e":0.02,"ed":0.02,"el":0,"eh":0.05,"c":0.76,"cd":0.76,"cl":0.50,"ch":0.75,"l":0.01,"ld":0.01,"ll":0,"lh":0.05},

{"r":"No nuclear","s":"nuclear","t":"a","e1":"4.45","e0":"0.34","c1":"1203.2","c0":"445.6","l1":"898.4","l0":"0.05"},
{"r":"$60 MWh⁻¹","s":"nuclear","t":"a","e1":"4.39","e0":"0.0","c1":"1155.0","c0":"325.7","l1":"895.1","l0":"0.0"},
{"r":"$100 MWh⁻¹","s":"nuclear","t":"a","e1":"4.49","e0":"0.0","c1":"1155.0","c0":"445.4","l1":"895.1","l0":"0.0"},
{"r":"$140 MWh⁻¹","s":"nuclear","t":"a","e1":"4.45","e0":"0.04","c1":"1155.0","c0":"447.2","l1":"895.1","l0":"0.0"},
{"r":"$180 MWh⁻¹","s":"nuclear","t":"a","e1":"4.45","e0":"0.1","c1":"1157.8","c0":"447.2","l1":"895.1","l0":"0.0"}
]},
"spacing":{"row":8,"column":9},
"facet":{
 "row":{"field":"r","type":"nominal","sort":["No nuclear","$60 MWh⁻¹","$100 MWh⁻¹","$140 MWh⁻¹","$180 MWh⁻¹"],
  "header":{"title":["Normalised emissions (black) cost (blue) and land use (red)","by bid price of nuclear power"],"titleOrient":"left","titleAngle":-90,"labelOrient":"left","labelAngle":-90,"labelPadding":4,"titlePadding":-8,"titleFontSize":8}},
 "column":{"field":"s","type":"nominal","sort":["onshore wind|$70 MWh⁻¹","solar PV|$275 MWh⁻¹","gas|$135 MWh⁻¹","biomass|$135 MWh⁻¹","coal|$100 MWh⁻¹","flow|$225 MWh⁻¹","nuclear"],
  "header":{"title":null,"labelExpr":"split(datum.value,'|')","labelPadding":4}}
},
"spec":{"width":47,"height":47,"layer":[
 {"transform":[{"filter":"isValid(datum.x)"}],
  "encoding":{"x":{"field":"x","type":"quantitative","scale":{"domain":[0,100]},"axis":{"values":[0,50,100],"labelOverlap":false,"labelFlush":true,"labelFlushOffset":2},"title":null}},
  "layer":[
   {"mark":{"type":"area","color":"#8f8f8f","opacity":0.33,"interpolate":"monotone"},"encoding":{"y":{"field":"el","type":"quantitative","scale":{"domain":[0,1]},"axis":{"values":[0,0.5,1],"format":"~g","labelOverlap":false,"labelFlush":true,"labelFlushOffset":3},"title":null},"y2":{"field":"eh"}}},
   {"mark":{"type":"area","color":"#7f7fee","opacity":0.27,"interpolate":"monotone"},"encoding":{"y":{"field":"cl","type":"quantitative","title":null},"y2":{"field":"ch"}}},
   {"mark":{"type":"area","color":"#f08a8a","opacity":0.3,"interpolate":"monotone"},"encoding":{"y":{"field":"ll","type":"quantitative","title":null},"y2":{"field":"lh"}}},
   {"mark":{"type":"line","color":"#000000","strokeWidth":1.2,"interpolate":"monotone"},"encoding":{"y":{"field":"e","type":"quantitative","title":null}}},
   {"mark":{"type":"line","color":"#2424f0","strokeWidth":1.2,"interpolate":"monotone"},"encoding":{"y":{"field":"c","type":"quantitative","title":null}}},
   {"mark":{"type":"line","color":"#f02424","strokeWidth":1.2,"interpolate":"monotone"},"encoding":{"y":{"field":"l","type":"quantitative","title":null}}},
   {"mark":{"type":"line","color":"#000000","strokeWidth":1,"strokeDash":[2,2],"interpolate":"monotone"},"encoding":{"y":{"field":"ed","type":"quantitative","title":null}}},
   {"mark":{"type":"line","color":"#2424f0","strokeWidth":1,"strokeDash":[2,2],"interpolate":"monotone"},"encoding":{"y":{"field":"cd","type":"quantitative","title":null}}},
   {"mark":{"type":"line","color":"#f02424","strokeWidth":1,"strokeDash":[2,2],"interpolate":"monotone"},"encoding":{"y":{"field":"ld","type":"quantitative","title":null}}}
  ]},
 {"transform":[{"filter":"datum.t=='a'"}],
  "layer":[
   {"mark":{"type":"rule","color":"#7f7f7f","strokeWidth":1},"encoding":{"x":{"datum":104},"x2":{"datum":110},"y":{"datum":1}}},
   {"mark":{"type":"rule","color":"#7f7f7f","strokeWidth":1},"encoding":{"x":{"datum":104},"x2":{"datum":110},"y":{"datum":0.5}}},
   {"mark":{"type":"rule","color":"#7f7f7f","strokeWidth":1},"encoding":{"x":{"datum":104},"x2":{"datum":110},"y":{"datum":0}}},
   {"mark":{"type":"text","align":"left","baseline":"middle","fontSize":7.5,"color":"#404040"},"encoding":{"x":{"datum":117},"y":{"datum":1},"text":{"field":"e1"}}},
   {"mark":{"type":"text","align":"left","baseline":"middle","fontSize":7.5,"color":"#404040"},"encoding":{"x":{"datum":117},"y":{"datum":0},"text":{"field":"e0"}}},
   {"mark":{"type":"text","align":"left","baseline":"middle","fontSize":7.5,"color":"#404040"},"encoding":{"x":{"datum":163},"y":{"datum":1},"text":{"field":"c1"}}},
   {"mark":{"type":"text","align":"left","baseline":"middle","fontSize":7.5,"color":"#404040"},"encoding":{"x":{"datum":163},"y":{"datum":0},"text":{"field":"c0"}}},
   {"mark":{"type":"text","align":"left","baseline":"middle","fontSize":7.5,"color":"#404040"},"encoding":{"x":{"datum":221},"y":{"datum":1},"text":{"field":"l1"}}},
   {"mark":{"type":"text","align":"left","baseline":"middle","fontSize":7.5,"color":"#404040"},"encoding":{"x":{"datum":221},"y":{"datum":0},"text":{"field":"l0"}}},
   {"transform":[{"filter":"datum.r=='No nuclear'"}],
    "layer":[
     {"mark":{"type":"rule","color":"#7f7f7f","strokeWidth":1},"encoding":{"x":{"datum":104},"y":{"datum":1.72},"y2":{"datum":-4.83}}},
     {"mark":{"type":"rule","color":"#a0a0a0","strokeWidth":1.5},"encoding":{"x":{"datum":155},"y":{"datum":1.56},"y2":{"datum":-5.0}}},
     {"mark":{"type":"rule","color":"#a0a0a0","strokeWidth":1.5},"encoding":{"x":{"datum":213},"y":{"datum":1.3},"y2":{"datum":-5.0}}},
     {"mark":{"type":"text","text":"Emissions (in Mt)","align":"left","baseline":"middle","fontSize":7.5,"color":"#404040"},"encoding":{"x":{"datum":110},"y":{"datum":1.71}}},
     {"mark":{"type":"text","text":"Cost (in million $)","align":"left","baseline":"middle","fontSize":7.5,"color":"#404040"},"encoding":{"x":{"datum":166},"y":{"datum":1.5}}},
     {"mark":{"type":"text","text":"Land area (km²)","align":"left","baseline":"middle","fontSize":7.2,"color":"#404040"},"encoding":{"x":{"datum":218},"y":{"datum":1.22}}}
    ]}
  ]}
]},
"config":{
 "font":"Lato",
 "view":{"stroke":"#a0a0a0","strokeWidth":1.5},
 "axis":{"grid":false,"domain":false,"ticks":false,"labelFontSize":8.5,"labelColor":"#404040","labelPadding":4,"titleFontSize":9,"titleFontWeight":"normal","titleColor":"#404040"},
 "axisX":{"tickCount":3,"labelFlush":true,"labelFlushOffset":2,"labelOverlap":false},
 "axisY":{"labelFlush":true,"labelFlushOffset":3},
 "header":{"labelFontSize":8.5,"labelColor":"#404040","titleFontSize":8,"titleFontWeight":"normal","titleColor":"#404040","labelLineHeight":11}
}
}
